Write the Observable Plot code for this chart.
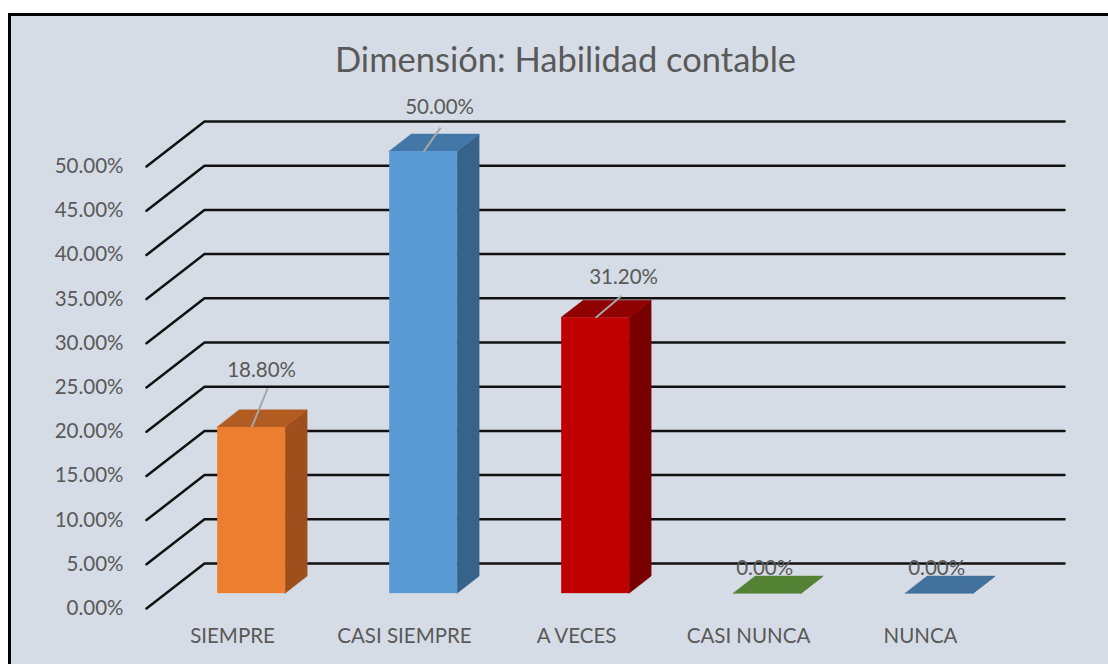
<!DOCTYPE html>
<html><head><meta charset="utf-8">
<script src="https://cdn.jsdelivr.net/npm/d3@7"></script>
<script src="https://cdn.jsdelivr.net/npm/@observablehq/plot@0.6"></script>
<style>
html,body{margin:0;padding:0;overflow:hidden;width:1108px;height:664px;background:#fff}
#bg{position:absolute;left:11px;top:16px;width:1097px;height:648px;background:#D6DCE5}
#topline{position:absolute;left:8px;top:13px;width:1100px;height:3px;background:#000}
#leftline{position:absolute;left:8px;top:13px;width:3px;height:651px;background:#000}
#title{position:absolute;left:0;top:42px;width:1131px;text-align:center;font-family:Lato,sans-serif;font-size:34.5px;line-height:34px;color:#595959}
#chart{position:absolute;left:0;top:90px}
</style></head>
<body>
<div id="bg"></div>
<div id="topline"></div>
<div id="leftline"></div>
<div id="title">Dimensión: Habilidad contable</div>
<div id="chart"></div>
<script>
// ---- data ----
const categories = ["SIEMPRE", "CASI SIEMPRE", "A VECES", "CASI NUNCA", "NUNCA"];
const values = [18.8, 50.0, 31.2, 0.0, 0.0];
const yTicks = [0, 5, 10, 15, 20, 25, 30, 35, 40, 45, 50];
const frontColors = ["#ED7D31", "#5B9BD5", "#C00000", "#70AD47", "#4472C4"];
const sideColors  = ["#9E501C", "#37638A", "#780000", "#4A7530", "#37628F"];
const topColors   = ["#B35C22", "#4377A8", "#900000", "#548235", "#41719C"];

// ---- layout ----
const W = 1108, H = 574, ML = 146, MR = 102, MT = 76, MB = 56;
const pxX = (W - ML - MR) / 5, pxY = (H - MT - MB) / 50;
const DX = 58 / pxX, DY = 45 / pxY;     // depth of the 3D box in data units
const F1 = 0.33, F2 = 0.71, BW = 0.395; // bar depth position & width
// label offsets in px relative to the front-top centre of each bar
const labelLayout = [
  {tx: 10, ty: -57, lx: 16, ly: -39},
  {tx: 16, ty: -44, lx: 17, ly: -24},
  {tx: 28, ty: -40, lx: 26, ly: -22},
  {tx: -3, ty: -25, lx: 0, ly: 0},
  {tx: -3, ty: -25, lx: 0, ly: 0}
];

const bars = categories.map((c, i) => ({c, i, v: values[i],
  xl: i - BW / 2 + F1 * DX, xr: i + BW / 2 + F1 * DX, y0: F1 * DY, yt: values[i] + F1 * DY}));
const dd = (F2 - F1);
const sidePts = bars.flatMap(b => [
  {i: b.i, x: b.xr, y1: b.y0, y2: b.yt},
  {i: b.i, x: b.xr + dd * DX, y1: b.y0 + dd * DY, y2: b.yt + dd * DY}
]);
const topPts = bars.flatMap(b => [
  {i: b.i, y: b.yt, x1: b.xl, x2: b.xr},
  {i: b.i, y: b.yt + dd * DY, x1: b.xl + dd * DX, x2: b.xr + dd * DX}
]);
const gridPts = yTicks.flatMap(v => [
  {v, x: -0.5, y: v},
  {v, x: -0.5 + DX, y: v + DY},
  {v, x: 4.5 + DX, y: v + DY}
]);
const fmt = v => v.toFixed(2) + "%";
const txt = "#595959";

const labelMarks = bars.flatMap(b => {
  const L = labelLayout[b.i];
  const cx = (b.xl + b.xr) / 2;
  const marks = [Plot.text([b], {x: () => cx, y: () => b.yt, text: d => fmt(d.v),
    dx: L.tx, dy: L.ty, fontSize: 20.5, fill: txt, fontFamily: "Lato"})];
  if (L.lx || L.ly) marks.unshift(Plot.link([b], {x1: () => cx, y1: () => b.yt,
    x2: () => cx + L.lx / pxX, y2: () => b.yt - L.ly / pxY, stroke: "#A6A6A6", strokeWidth: 2}));
  return marks;
});

const chart = Plot.plot({
  width: W, height: H,
  marginLeft: ML, marginRight: MR, marginTop: MT, marginBottom: MB,
  style: {background: "transparent", overflow: "visible", fontFamily: "Lato"},
  x: {domain: [-0.5, 4.5], axis: null},
  y: {domain: [0, 50], axis: null},
  color: {type: "identity"},
  marks: [
    Plot.line(gridPts, {x: "x", y: "y", z: "v", stroke: "#111", strokeWidth: 2.5}),
    Plot.axisY({ticks: yTicks, tickFormat: fmt, tickSize: 0, tickPadding: 23, fontSize: 20.5, color: txt}),
    Plot.axisX({ticks: [0, 1, 2, 3, 4], tickFormat: i => categories[i], tickSize: 0, tickPadding: 20, fontSize: 20.5, color: txt}),
    Plot.areaY(sidePts, {x: "x", y1: "y1", y2: "y2", z: "i", fill: d => sideColors[d.i], stroke: d => sideColors[d.i], strokeWidth: 0.5}),
    Plot.areaX(topPts, {y: "y", x1: "x1", x2: "x2", z: "i", fill: d => topColors[d.i], stroke: d => topColors[d.i], strokeWidth: 0.5}),
    Plot.rect(bars, {x1: "xl", x2: "xr", y1: "y0", y2: "yt", fill: d => frontColors[d.i]}),
    ...labelMarks
  ]
});
document.getElementById("chart").appendChild(chart);
</script>
</body></html>
